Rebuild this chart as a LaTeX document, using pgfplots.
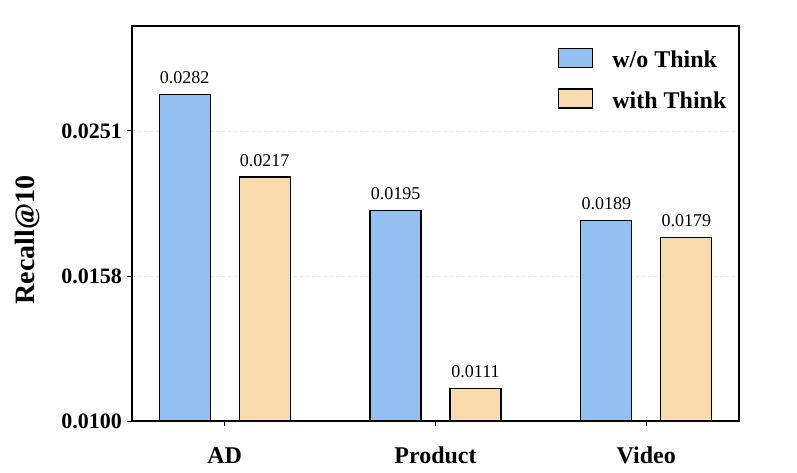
\documentclass[border=0pt]{standalone}
\usepackage{fontspec}
\setmainfont{Liberation Serif}
\usepackage{pgfplots}
\pgfplotsset{compat=1.18}
\definecolor{barBlue}{HTML}{94BFF1}
\definecolor{barTan}{HTML}{F8DAAD}
\definecolor{gridGray}{HTML}{E6E6E6}

\begin{document}
\begin{tikzpicture}
\useasboundingbox (0,0) rectangle (797pt,472pt);
\begin{axis}[
  at={(132pt,51pt)}, anchor=south west,
  scale only axis, width=607pt, height=395pt,
  ymode=log, log origin y=infty,
  ymin=0.01, ymax=0.03506,
  xmin=-0.44, xmax=2.44,
  ybar=29pt, bar width=51pt,
  axis line style={line width=1.4pt},
  xtick={0,1,2}, xticklabels={AD,Product,Video},
  ytick={0.01,0.0158489,0.0251189},
  yticklabels={0.0100,0.0158,0.0251},
  minor ytick={}, minor tick length=0pt,
  tick align=outside, major tick length=5pt,
  tick style={line width=1pt, black},
  xtick pos=bottom, ytick pos=left,
  x tick label style={font=\fontsize{24}{26}\selectfont\bfseries, inner sep=0pt, yshift=-21pt},
  y tick label style={font=\fontsize{22}{24}\selectfont\bfseries, inner sep=5pt},
  ylabel={Recall@10},
  ylabel style={font=\fontsize{28}{30}\selectfont\bfseries, at={(axis description cs:-0.173,0.458)}, anchor=center},
  ymajorgrids, grid style={gridGray, dashed, line width=0.8pt},
  point meta=explicit symbolic,
  nodes near coords,
  nodes near coords style={font=\fontsize{18}{20}\selectfont, anchor=south, inner sep=0pt, yshift=10pt},
  legend style={at={(axis description cs:0.7018,0.9443)}, anchor=north west, draw=none, fill=none,
    inner sep=0pt, font=\fontsize{24}{26}\selectfont\bfseries,
    nodes={inner sep=0pt, text height=18pt, text depth=0pt},
    column sep=19pt, row sep=20pt},
  legend cell align=left,
  legend image code/.code={\draw[#1, line width=1.2pt] (0pt,-9pt) rectangle (34pt,10pt);},
]
\addplot[draw=black, line width=1.3pt, fill=barBlue] coordinates {(0,0.0282) [0.0282] (1,0.0195) [0.0195] (2,0.0189) [0.0189]};
\addplot[draw=black, line width=1.3pt, fill=barTan] coordinates {(0,0.0217) [0.0217] (1,0.0111) [0.0111] (2,0.0179) [0.0179]};
\legend{w/o Think, with Think}
\end{axis}
\end{tikzpicture}
\end{document}
